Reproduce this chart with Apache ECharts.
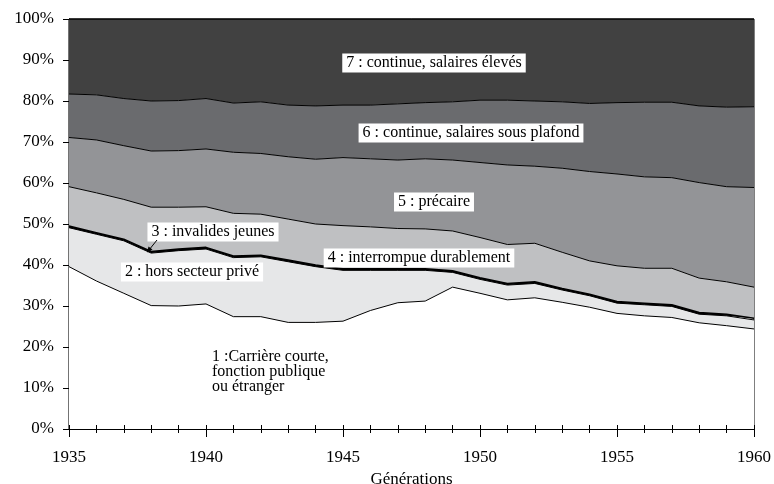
<!DOCTYPE html>
<html>
<head>
<meta charset="utf-8">
<script src="https://cdn.jsdelivr.net/npm/echarts@6/dist/echarts.min.js"></script>
<style>
html, body { margin: 0; padding: 0; background: #fff; }
#chart { width: 774px; height: 484px; }
</style>
</head>
<body>
<div id="chart"></div>
<script>
// générations 1935-1960, parts (%) des 7 types de carrière
const years = ['1935', '1936', '1937', '1938', '1939', '1940', '1941', '1942', '1943', '1944', '1945', '1946', '1947',
    '1948', '1949', '1950', '1951', '1952', '1953', '1954', '1955', '1956', '1957', '1958', '1959', '1960']
const courte = [39.6, 36.1, 33.1, 30.1, 30.0, 30.5, 27.4, 27.4, 26.0, 26.0, 26.3, 28.9, 30.8,
    31.2, 34.6, 33.1, 31.5, 32.0, 30.9, 29.7, 28.2, 27.6, 27.2, 25.9, 25.2, 24.4]
const horsPrive = [9.5, 11.4, 12.8, 12.8, 13.5, 13.4, 14.4, 14.6, 14.8, 13.6, 12.4, 9.8, 7.9,
    7.5, 3.6, 3.4, 3.6, 3.5, 3.0, 2.8, 2.5, 2.7, 2.7, 2.1, 2.4, 2.2]
const invalides = [0.4, 0.4, 0.4, 0.4, 0.4, 0.4, 0.4, 0.4, 0.4, 0.4, 0.4, 0.4, 0.4,
    0.4, 0.4, 0.4, 0.4, 0.4, 0.4, 0.4, 0.4, 0.4, 0.4, 0.4, 0.4, 0.4]
const interrompue = [9.6, 9.7, 9.7, 10.8, 10.2, 9.9, 10.4, 10.0, 10.0, 10.0, 10.5, 10.2, 9.8,
    9.7, 9.7, 9.8, 9.5, 9.4, 8.8, 8.1, 8.7, 8.5, 8.9, 8.4, 7.9, 7.6]
const precaire = [12.0, 12.9, 13.1, 13.7, 13.8, 14.1, 14.9, 14.8, 15.2, 15.8, 16.6, 16.6, 16.7,
    17.1, 17.3, 18.3, 19.4, 18.8, 20.5, 21.8, 22.4, 22.3, 22.1, 23.3, 23.2, 24.3]
const sousPlafond = [10.6, 11.0, 11.5, 12.2, 12.2, 12.3, 12.0, 12.6, 12.6, 13.0, 12.8, 13.1, 13.7,
    13.7, 14.2, 15.2, 15.8, 15.9, 16.2, 16.6, 17.4, 18.2, 18.4, 18.7, 19.4, 19.7]
const eleves = [18.3, 18.5, 19.4, 20.0, 19.9, 19.4, 20.5, 20.2, 21.0, 21.2, 21.0, 21.0, 20.7,
    20.4, 20.2, 19.8, 19.8, 20.0, 20.2, 20.6, 20.4, 20.3, 20.3, 21.2, 21.5, 21.4]

const bands = [
    { name: '1', values: courte, color: '#ffffff', width: 1 },
    { name: '2', values: horsPrive, color: '#e6e7e8', width: 1 },
    { name: '3', values: invalides, color: '#000000', width: 1.5 },
    { name: '4', values: interrompue, color: '#bfc0c2', width: 1 },
    { name: '5', values: precaire, color: '#939497', width: 1 },
    { name: '6', values: sousPlafond, color: '#6a6b6e', width: 1 },
    { name: '7', values: eleves, color: '#414141', width: 1.5 }
]

const font = '"Liberation Serif", "Times New Roman", serif'
const chart = echarts.init(document.getElementById('chart'))

const boxText = (text, cx, cy) => ({
    type: 'text',
    x: cx,
    y: cy,
    z: 100,
    style: {
        text: text,
        font: '16px ' + font,
        fill: '#000',
        align: 'center',
        verticalAlign: 'middle',
        backgroundColor: '#fff',
        padding: [2, 4, 1, 4]
    }
})

const option = {
    animation: false,
    backgroundColor: '#fff',
    grid: {
        left: 69, right: 20, top: 19, bottom: 55,
        containLabel: false,
        outerBoundsMode: 'none',
        show: true, borderColor: '#000', borderWidth: 1, backgroundColor: 'transparent'
    },
    xAxis: [{
        type: 'category',
        data: years,
        boundaryGap: false,
        z: 5,
        name: 'Générations',
        nameLocation: 'middle',
        nameGap: 40,
        nameTextStyle: { fontFamily: font, fontSize: 17, color: '#000' },
        axisLine: { lineStyle: { color: '#000', width: 1.2 } },
        axisTick: { interval: 0, length: 4, lineStyle: { color: '#000' } },
        splitLine: { show: false },
        axisLabel: { interval: 4, fontFamily: font, fontSize: 17, color: '#000', margin: 20 }
    }, {
        // graduations longues tous les 5 ans
        type: 'category',
        data: years,
        boundaryGap: false,
        position: 'bottom',
        z: 5,
        axisLine: { show: false },
        axisTick: { interval: 4, length: 8, lineStyle: { color: '#000' } },
        axisLabel: { show: false },
        splitLine: { show: false }
    }, {
        // partie intérieure des graduations
        type: 'category',
        data: years,
        boundaryGap: false,
        position: 'bottom',
        z: 5,
        axisLine: { show: false },
        axisTick: { interval: 0, inside: true, length: 4, lineStyle: { color: '#000' } },
        axisLabel: { show: false },
        splitLine: { show: false }
    }],
    yAxis: {
        type: 'value',
        min: 0, max: 100, interval: 10,
        axisLine: { show: true, lineStyle: { color: '#000', width: 1.2 } },
        axisTick: { show: true, length: 6, lineStyle: { color: '#000' } },
        splitLine: { show: false },
        axisLabel: { formatter: '{value}%', fontFamily: font, fontSize: 17, color: '#000', margin: 15 }
    },
    series: bands.map(b => ({
        name: b.name,
        type: 'line',
        stack: 'total',
        xAxisIndex: 0,
        symbol: 'none',
        lineStyle: { color: '#000', width: b.width },
        areaStyle: { color: b.color, opacity: 1 },
        data: b.values
    })),
    graphic: [
        boxText('7 : continue, salaires élevés', 434, 63),
        boxText('6 : continue, salaires sous plafond', 471, 133),
        boxText('5 : précaire', 434, 202),
        boxText('4 : interrompue durablement', 419, 258),
        boxText('3 : invalides jeunes', 213, 232),
        boxText('2 : hors secteur privé', 192, 272),
        {
            type: 'text',
            x: 212, y: 349, z: 100,
            style: {
                text: '1 :Carrière courte,\nfonction publique\nou étranger',
                font: '16px ' + font,
                lineHeight: 15,
                fill: '#000',
                align: 'left',
                verticalAlign: 'top'
            }
        },
        {
            type: 'polyline', z: 100,
            shape: { points: [[157, 240], [149, 250]] },
            style: { stroke: '#000', lineWidth: 1, fill: null }
        },
        {
            type: 'polygon', z: 100,
            shape: { points: [[147, 252.5], [148.5, 246.5], [152.5, 249.5]] },
            style: { fill: '#000' }
        }
    ]
}
chart.setOption(option)
</script>
</body>
</html>
